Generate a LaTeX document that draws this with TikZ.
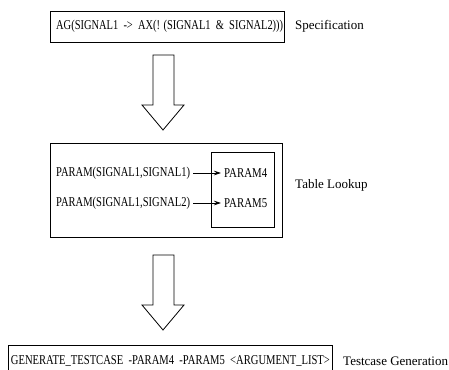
\documentclass[tikz,border=0pt]{standalone}
\usepackage{fontspec}
\setmainfont{Liberation Serif}
\usetikzlibrary{arrows.meta}
\tikzset{
  box/.style={draw, line width=0.8pt, inner sep=0pt, anchor=north west},
  lbl/.style={anchor=west, inner sep=0pt, font=\fontsize{13}{15}\selectfont},
  code/.style={anchor=west, inner sep=0pt},
  link/.style={line width=0.7pt, -{Stealth[length=7pt,width=4.5pt]}, shorten <=3pt, shorten >=3pt},
  blockarrow/.style={draw, line width=0.8pt, fill=white},
}
\newcommand{\codetxt}[2]{\resizebox{#1pt}{\height}{\fontsize{13.5}{15}\selectfont #2}}
\begin{document}
\begin{tikzpicture}[x=1pt,y=-1pt]
\useasboundingbox (0,0) rectangle (449,369);
% boxes
\node[box, minimum width=234pt, minimum height=31pt] (specbox) at (50,11) {};
\node[box, minimum width=232pt, minimum height=94pt] (tablebox) at (50,143) {};
\node[box, minimum width=63pt, minimum height=75pt] (inner) at (211,152) {};
\node[box, minimum width=324pt, minimum height=32pt] (genbox) at (8,345) {};
% texts
\node[code] (spectxt) at (56,26.5) {\codetxt{227}{AG(SIGNAL1 \ -> \ AX(! (SIGNAL1 \ \& \ SIGNAL2)))}};
\node[lbl] (speclbl) at (295,26) {Specification};
\node[code] (p1) at (56,173) {\codetxt{134}{PARAM(SIGNAL1,SIGNAL1)}};
\node[code] (p2) at (56,203) {\codetxt{134}{PARAM(SIGNAL1,SIGNAL2)}};
\node[code] (r4) at (224,173) {\codetxt{43}{PARAM4}};
\node[code] (r5) at (224,203) {\codetxt{43}{PARAM5}};
\node[lbl] (tablelbl) at (295,185) {Table Lookup};
\node[code] (gentxt) at (10.7,361) {\codetxt{319}{GENERATE\_TESTCASE \ -PARAM4 \ -PARAM5 \ <ARGUMENT\_LIST>}};
\node[lbl] (genlbl) at (343,361) {Testcase Generation};
% links
\draw[link] (p1.east) -- (r4.west);
\draw[link] (p2.east) -- (r5.west);
% block arrows
\draw[blockarrow] (153,55) -- (174,55) -- (174,105) -- (184,105) -- (163,130) -- (142,105) -- (153,105) -- cycle;
\draw[blockarrow] (153,255) -- (174,255) -- (174,305) -- (184,305) -- (163,330) -- (142,305) -- (153,305) -- cycle;
\end{tikzpicture}
\end{document}
